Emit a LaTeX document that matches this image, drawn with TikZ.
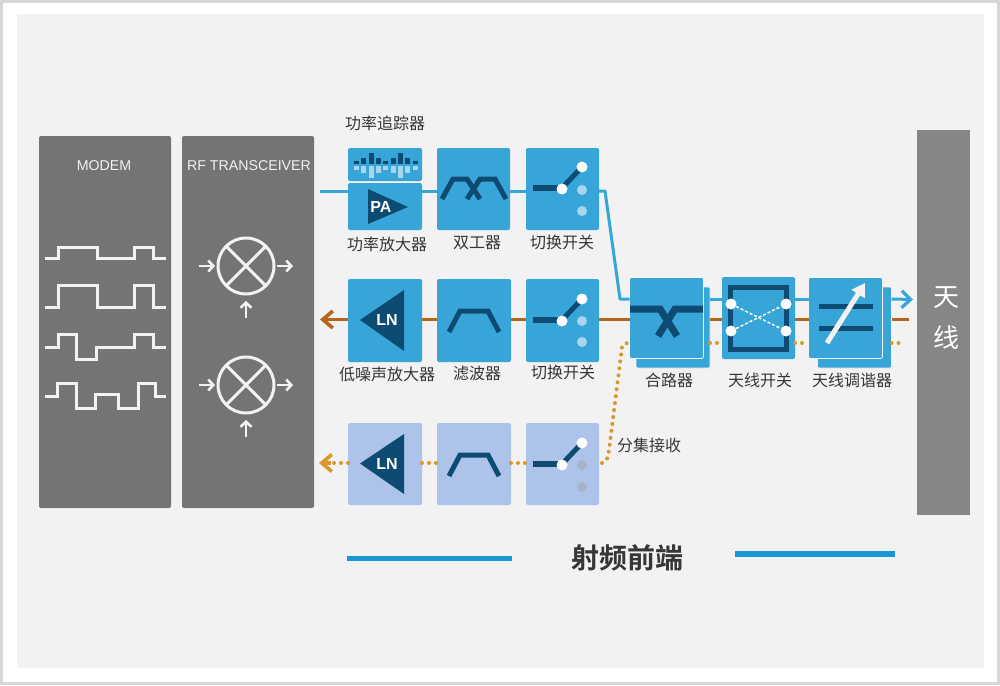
\documentclass[tikz,border=0pt]{standalone}
\usepackage{fontspec}
\setmainfont{Liberation Sans}
\newfontfamily\cjk{Noto Sans CJK SC}
\newfontfamily\cjkb{Noto Sans CJK SC Bold}
\usetikzlibrary{arrows.meta}
\definecolor{bluebox}{HTML}{38A5D9}
\definecolor{navy}{HTML}{0D4B73}
\definecolor{brownl}{HTML}{B5661A}
\definecolor{dotc}{HTML}{D9972F}
\definecolor{peri}{HTML}{AEC3EA}
\definecolor{panel}{HTML}{747474}
\definecolor{antc}{HTML}{868686}
\definecolor{linew}{HTML}{F2F2F2}
\definecolor{ink}{HTML}{363636}
\definecolor{bgc}{HTML}{F2F2F2}
\definecolor{framec}{HTML}{D6D6D6}
\definecolor{dimdot}{HTML}{A9D6EE}
\definecolor{greydot}{HTML}{A7B3C6}
\definecolor{rulec}{HTML}{1A97D0}
\tikzset{
  x=1pt,y=-1pt,
  blk/.style={rectangle,rounded corners=2pt,inner sep=0pt,outer sep=0pt,fill=#1},
  bbox/.style={blk=bluebox,minimum width=73pt,minimum height=82pt},
  pbox/.style={blk=peri,minimum width=73pt,minimum height=82pt},
  panelbox/.style={blk=panel,minimum width=132pt,minimum height=372pt},
  lbl/.style={font=\cjk\fontsize{16}{18}\selectfont,text=ink,inner sep=0pt},
  head/.style={font=\fontsize{14.2}{16}\selectfont,text=linew,inner sep=0pt},
  wave/.style={draw=linew,line width=3pt,miter limit=2},
  mixc/.style={circle,draw=linew,line width=3pt,minimum size=56pt,inner sep=0pt,outer sep=0pt},
  wire/.style={draw=linew,line width=3pt},
  smallarr/.style={draw=linew,line width=2.6pt,-{Straight Barb[length=5pt,width=11pt,line width=2.6pt]}},
  txl/.style={draw=bluebox,line width=3pt},
  rxl/.style={draw=brownl,line width=3.4pt},
  divl/.style={draw=dotc,line width=4pt,line cap=round,dash pattern=on 0pt off 7pt},
  icon/.style={draw=navy,line width=#1},
  icon/.default=5pt,
  lntri/.style={fill=navy},
  lntxt/.style={font=\bfseries\fontsize{16}{16}\selectfont,text=white,inner sep=0pt},
  wd/.style={circle,fill=white,minimum size=11pt,inner sep=0pt},
  dd/.style={circle,fill=dimdot,minimum size=10pt,inner sep=0pt},
  gd/.style={circle,fill=greydot,minimum size=10pt,inner sep=0pt},
}
\begin{document}
\begin{tikzpicture}
\useasboundingbox (0,0) rectangle (1000,685);
\fill[framec] (0,0) rectangle (1000,685);
\fill[white] (3,3) rectangle (997,682);
\fill[bgc] (17,14) rectangle (984,668);

% panels
\node[panelbox] (modem) at (105,322) {};
\node[panelbox] (rf) at (248,322) {};
\node[rectangle,fill=antc,minimum width=53pt,minimum height=385pt,inner sep=0pt] (ant) at (943.5,322.5) {};
\node[head] (modemt) at (104,166) {MODEM};
\node[head] (rft) at (249,166) {RF TRANSCEIVER};
\node[font=\cjk\fontsize{26}{28}\selectfont,text=white,inner sep=0pt] (ant1) at (946,298) {天};
\node[font=\cjk\fontsize{26}{28}\selectfont,text=white,inner sep=0pt] (ant2) at (946,338) {线};

% waveforms
\draw[wave] (45,258)--(58,258)--(58,247)--(97,247)--(97,258)--(134,258)--(134,247)--(153,247)--(153,258)--(166,258);
\draw[wave] (45,307)--(58,307)--(58,285)--(97,285)--(97,307)--(134,307)--(134,285)--(153,285)--(153,307)--(166,307);
\draw[wave] (45,347)--(58,347)--(58,334)--(76,334)--(76,359)--(96,359)--(96,347)--(134,347)--(134,334)--(153,334)--(153,347)--(166,347);
\draw[wave] (45,396)--(57,396)--(57,383)--(76,383)--(76,408)--(95,408)--(95,394)--(118,394)--(118,408)--(138,408)--(138,383)--(155,383)--(155,396)--(166,396);

% mixers
\foreach \n/\cy in {mixa/266,mixb/385}{
  \node[mixc] (\n) at (246,\cy) {};
  \draw[wire] (\n.north west)--(\n.south east);
  \draw[wire] (\n.north east)--(\n.south west);
  \coordinate (\n l) at (199,\cy);
  \coordinate (\n r) at (293,\cy);
  \coordinate (\n b) at (246,\cy+52);
  \draw[smallarr,shorten >=3pt] (\n l)--(\n.west);
  \draw[smallarr,shorten <=3pt] (\n.east)--(\n r);
  \draw[smallarr,shorten >=7pt] (\n b)--(\n.south);
}

% row 1 boxes
\node[blk=bluebox,minimum width=74pt,minimum height=33pt] (trk) at (385,164.5) {};
\node[blk=bluebox,minimum width=74pt,minimum height=47pt] (pa) at (385,206.5) {};
\node[bbox] (dup) at (473.5,189) {};
\node[bbox] (sw1) at (562.5,189) {};
% row 2 boxes
\node[bbox,minimum width=74pt,minimum height=83pt] (lna) at (385,320.5) {};
\node[bbox,minimum width=74pt,minimum height=83pt] (flt) at (474,320.5) {};
\node[bbox,minimum height=83pt] (sw2) at (562.5,320.5) {};
% row 3 boxes
\node[pbox,minimum width=74pt] (lnb) at (385,464) {};
\node[pbox,minimum width=74pt] (flb) at (474,464) {};
\node[pbox] (sw3) at (562.5,464) {};
% right boxes
\node[blk=bluebox,draw=bgc,line width=.6pt,minimum width=74pt,minimum height=81pt] (cmbb) at (673,327.5) {};
\node[blk=bluebox,draw=bgc,line width=.8pt,minimum width=74pt,minimum height=81pt] (cmb) at (666.5,318) {};
\node[bbox] (asw) at (758.5,318) {};
\node[blk=bluebox,draw=bgc,line width=.6pt,minimum width=74pt,minimum height=81pt] (tunb) at (854.5,327.5) {};
\node[blk=bluebox,draw=bgc,line width=.8pt,minimum width=74pt,minimum height=81pt] (tun) at (845.5,318) {};

% named line levels
\coordinate (txin) at (320,191);
\coordinate (k1) at (605,191);
\coordinate (k2) at (620,299);
\coordinate (txlev) at (630,299);
\coordinate (txend) at (913,299.5);
\coordinate (rxl) at (320,319.5);
\coordinate (rxend) at (909,319.5);
\coordinate (dvl) at (319,463);
\coordinate (dvt) at (630,343);
\coordinate (dve) at (901,343);

% transmit path
\draw[txl] (txin)--(pa.west|-txin);
\draw[txl] (pa.east|-txin)--(dup.west|-txin);
\draw[txl] (dup.east|-txin)--(sw1.east|-txin);
\draw[txl,line join=round] (sw1.east|-txin)--(k1)--(k2)--(cmb.west|-txlev);
\draw[txl] (cmbb.east|-txlev)--(asw.west|-txlev);
\draw[txl] (asw.east|-txlev)--(tun.west|-txlev);
\draw[txl,-{Straight Barb[length=9pt,width=17pt,line width=3.2pt]}] (tunb.east|-txlev)--(txend);

% receive path
\draw[rxl,-{Straight Barb[length=10pt,width=17pt,line width=3.6pt]}] (lna.west|-rxl)--(rxl);
\draw[rxl] (lna.east|-rxl)--(flt.west|-rxl);
\draw[rxl] (flt.east|-rxl)--(sw2.west|-rxl);
\draw[rxl] (sw2.east|-rxl)--(cmb.west|-rxl);
\draw[rxl] (cmbb.east|-rxl)--(asw.west|-rxl);
\draw[rxl] (asw.east|-rxl)--(tun.west|-rxl);
\draw[rxl] (tunb.east|-rxl)--(rxend);

% diversity path
\draw[divl] (lnb.west|-dvl)--(331,463);
\draw[draw=dotc,line width=3.4pt,-{Straight Barb[length=10pt,width=17pt,line width=3.6pt]}] (331,463)--(dvl);
\draw[divl] (lnb.east|-dvl)--(flb.west|-dvl);
\draw[divl] (flb.east|-dvl)--(sw3.west|-dvl);
\draw[divl] (602,463) .. controls (608,461) and (608,456) .. (609,450) -- (622,347) .. controls (622.5,344) and (624,343) .. (dvt);
\draw[divl] (cmbb.east|-dvt)--(asw.west|-dvt);
\draw[divl] (asw.east|-dvt)--(tun.west|-dvt);
\draw[divl] (tunb.east|-dvt)--(dve);

% tracker bars
\foreach \x/\t/\b in {356/161/170,363/158/173,371/153/178,378/158/173,385/161/170,393/158/173,400/153/178,407/158/173,415/161/170}{
  \fill[navy] (\x-2.5,\t) rectangle (\x+2.5,164);
  \fill[dimdot] (\x-2.5,166) rectangle (\x+2.5,\b);
}
% PA
\fill[lntri] (368,189)--(408,207)--(368,224)--cycle;
\node[lntxt] (patxt) at (381,207) {PA};

% duplexer
\draw[icon,line join=miter] (442,199)--(453,179)--(467,179)--(480,199);
\draw[icon,line join=miter] (467,199)--(480,179)--(495,179)--(506,199);

% switches
\foreach \n/\ya/\yb/\yc/\yd/\st in {s1/188/167/190/211/dd,s2/320/299/321/342/dd,s3/464/443/465/487/gd}{
  \draw[icon=6pt] (533,\ya)--(562,\ya);
  \draw[icon=5pt] (562,\ya)--(582,\yb);
  \node[wd] (\n a) at (562,\ya+1) {};
  \node[wd] (\n b) at (582,\yb) {};
  \node[\st] (\n c) at (582,\yc) {};
  \node[\st] (\n d) at (582,\yd) {};
}

% LNAs
\fill[lntri] (360,320)--(404,290)--(404,351)--cycle;
\node[lntxt] (lnt1) at (387,320) {LN};
\fill[lntri] (360,463.5)--(404,434)--(404,494)--cycle;
\node[lntxt] (lnt2) at (387,464) {LN};

% filters
\draw[icon] (449,332)--(460,311)--(488,311)--(499,332);
\draw[icon] (449,476)--(460,455)--(488,455)--(499,476);

% combiner
\draw[icon=7pt,line join=miter] (630,309)--(660,309)--(677,336);
\draw[icon=7pt,line join=miter] (703,309)--(675,309)--(658,336);

% antenna switch
\draw[icon,fill=none] (730,287) rectangle (786,349);
\node[wd] (a1) at (731,304) {};
\node[wd] (a2) at (786,304) {};
\node[wd] (a3) at (731,331) {};
\node[wd] (a4) at (786,331) {};
\draw[white,line width=1.5pt,dash pattern=on 3pt off 2pt] (a1)--(a4);
\draw[white,line width=1.5pt,dash pattern=on 3pt off 2pt] (a3)--(a2);

% tuner
\draw[icon] (819,306)--(873,306);
\draw[icon] (819,328)--(873,328);
\draw[draw=bgc,line width=5pt,-{Triangle[length=13pt,width=15pt]}] (827,343)--(865,283);

% labels
\node[lbl] (l1) at (385,123) {功率追踪器};
\node[lbl] (l2) at (387,244) {功率放大器};
\node[lbl] (l3) at (477,243) {双工器};
\node[lbl] (l4) at (562,242) {切换开关};
\node[lbl] (l5) at (387,374) {低噪声放大器};
\node[lbl] (l6) at (477,373) {滤波器};
\node[lbl] (l7) at (563,372) {切换开关};
\node[lbl] (l8) at (669,380) {合路器};
\node[lbl] (l9) at (760,380) {天线开关};
\node[lbl] (l10) at (852,380) {天线调谐器};
\node[lbl] (l11) at (649,445) {分集接收};
\node[font=\cjkb\fontsize{28}{30}\selectfont,text=ink,inner sep=0pt] (title) at (627,558) {射频前端};
\fill[rulec] (347,555.5) rectangle (512,561);
\fill[rulec] (735,551) rectangle (895,557);
\end{tikzpicture}
\end{document}
